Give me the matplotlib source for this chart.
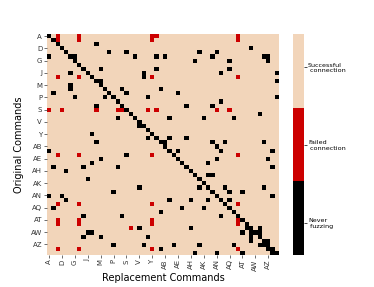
import numpy as np
import matplotlib
matplotlib.use("Agg")
import matplotlib.pyplot as plt
from matplotlib.colors import ListedColormap, BoundaryNorm

names = ["A", "B", "C", "D", "E", "F", "G", "H", "I", "J", "K", "L", "M",
         "N", "O", "P", "Q", "R", "S", "T", "U", "V", "W", "X", "Y", "Z",
         "AA", "AB", "AC", "AD", "AE", "AF", "AG", "AH", "AI", "AJ", "AK",
         "AL", "AM", "AN", "AO", "AP", "AQ", "AR", "AS", "AT", "AU", "AV",
         "AW", "AX", "AY", "AZ", "BA", "BB"]

# columns that were never fuzzed, one list per original command (row)
never_by_row = [
    [0], [1], [2, 11], [3, 47], [4, 14, 18, 35, 39],
    [0, 5, 6, 20, 25, 27, 38, 50, 51], [6, 34, 42, 51], [7],
    [8, 12, 25, 42], [5, 9, 22, 40, 53], [10, 22], [11, 12, 53],
    [5, 12], [5, 13, 17, 26], [1, 14, 18, 30], [6, 13, 15, 23, 53],
    [16, 40], [11, 17, 32, 38], [18], [19, 49], [16, 20, 28, 36, 43],
    [21], [21, 22], [23], [10, 24], [23, 25, 28, 32],
    [11, 26, 27, 38, 41, 50], [27, 39], [0, 28, 30, 40, 52], [18, 29],
    [12, 30, 39, 51], [10, 31, 37], [1, 8, 16, 32, 52], [4, 33],
    [34, 37, 38], [9, 35], [36], [21, 35, 37, 41, 50], [15, 38, 42, 45],
    [0, 3, 39, 52], [4, 28, 33, 37, 40, 42], [41], [1, 31, 36, 42],
    [26, 43], [8, 17, 40, 44], [45], [46], [21, 33, 46, 47, 49],
    [9, 10, 45, 47, 48, 49], [8, 12, 23, 47, 49], [47, 50, 51],
    [15, 22, 29, 35, 43, 49, 50, 51], [26, 51, 52], [34, 39, 45, 52, 53],
]

# rows with failed connections and their columns
failed_rows = [0, 1, 10, 18, 29, 41, 45, 46, 47, 52]
failed_cols = [
    [2, 7, 24, 25, 44], [2, 7, 24, 44], [2, 7, 24, 44],
    [0, 3, 11, 16, 17, 23, 25, 39, 42], [2, 7, 24, 44], [2, 7, 24, 44],
    [2, 7, 24, 44], [2, 7, 24, 44], [19], [2, 7, 24, 44],
]

status_labels = ["Never\n fuzzing", "Failed\n connection", "Successful\n connection"]
status_ticks = [-0.07, 0.99, 2.05]

n = len(names)
grid = np.full((n, n), 2)
for r, cols in enumerate(never_by_row):
    grid[r, cols] = 0
for r, cols in zip(failed_rows, failed_cols):
    grid[r, cols] = 1

cmap = ListedColormap(["#000000", "#cc0000", "#f2d5ba"])
norm = BoundaryNorm([-0.5, 0.5, 1.5, 2.5], 3)

fig = plt.figure(figsize=(3.74, 2.87), dpi=100)
ax = fig.add_axes([0.1257, 0.1132, 0.6203, 0.7683])
cax = fig.add_axes([0.783, 0.1132, 0.0294, 0.7683])

im = ax.imshow(grid, cmap=cmap, norm=norm, aspect="auto", interpolation="nearest")
for s in ax.spines.values():
    s.set_visible(False)

ticks = np.arange(0, n, 3)
ax.set_xticks(ticks)
ax.set_xticklabels(names[::3], rotation=90, fontsize=5)
ax.set_yticks(ticks)
ax.set_yticklabels(names[::3], fontsize=5)
ax.tick_params(length=2, width=0.5, pad=1.5, colors="#333333")
ax.set_xlabel("Replacement Commands", fontsize=7, labelpad=1.5)
ax.set_ylabel("Original Commands", fontsize=7, labelpad=5)

cb = fig.colorbar(im, cax=cax, ticks=status_ticks)
cb.set_ticklabels(status_labels)
cb.outline.set_visible(False)
cb.ax.minorticks_off()
cb.ax.tick_params(labelsize=4.6, length=2, width=0.5, pad=1)

fig.savefig("out.png", dpi=100)
